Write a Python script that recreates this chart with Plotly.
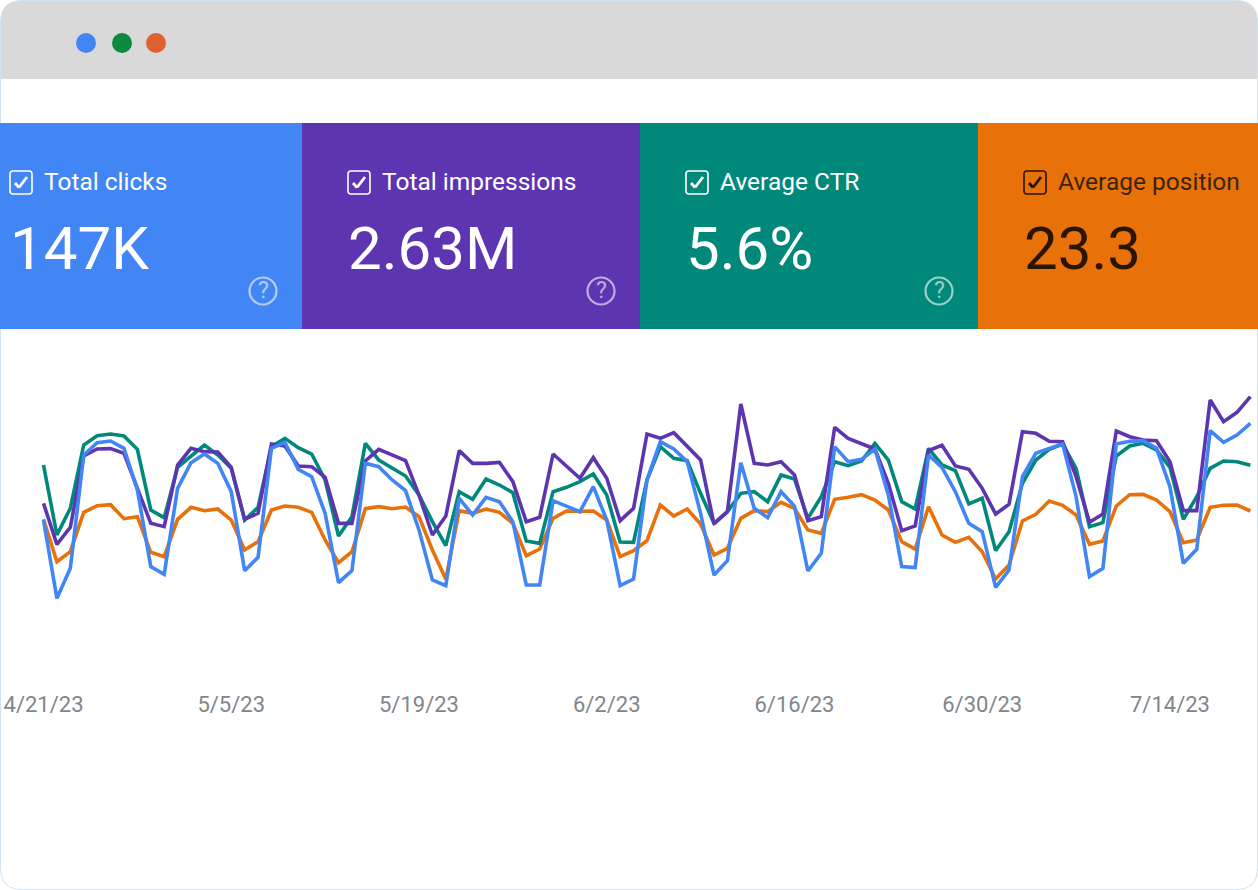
import plotly.graph_objects as go
import pandas as pd

dates = pd.date_range("2023-04-21", periods=91, freq="D")
tick_dates = ["2023-04-21", "2023-05-05", "2023-05-19", "2023-06-02", "2023-06-16", "2023-06-30", "2023-07-14"]
tick_labels = ["4/21/23", "5/5/23", "5/19/23", "6/2/23", "6/16/23", "6/30/23", "7/14/23"]

# Relative index values (no y axis in the source picture)
raw_ctr = [255,465,385,195,167,162,168,208,390,413,262,228,195,225,265,420,382,200,175,203,222,300,468,410,190,240,265,288,345,
           425,497,335,358,297,315,338,483,490,335,322,305,282,345,486,487,300,200,235,242,340,430,395,340,335,365,285,297,415,350,245,
           257,243,190,240,365,387,205,255,272,372,355,512,455,310,240,208,192,265,440,428,228,198,190,210,262,418,350,265,243,245,256]
raw_impr = [370,493,442,228,207,206,220,325,430,440,255,205,215,216,262,418,400,192,198,258,260,292,430,430,243,208,225,242,345,
            465,408,212,250,250,247,305,425,412,222,258,295,233,295,422,385,162,175,158,198,240,432,395,72,250,255,245,285,422,410,142,
            175,190,207,310,452,438,212,196,258,268,325,402,373,155,160,184,185,290,427,402,153,170,180,182,245,392,392,60,125,97,50]
raw_clicks = [420,655,565,225,188,183,205,330,560,583,325,248,222,250,335,572,532,205,187,268,290,400,608,572,250,260,300,332,450,
              600,617,355,405,352,365,425,615,615,362,378,395,320,420,617,597,300,185,207,245,400,585,542,248,385,413,335,378,573,520,200,
              245,238,207,345,560,563,225,262,335,430,455,622,570,290,220,205,192,350,590,565,192,184,182,205,320,550,508,152,187,165,130]
raw_pos = [418,545,515,397,377,374,416,410,517,530,418,382,392,387,420,510,485,390,378,382,397,480,548,515,386,380,386,381,410,
           510,598,392,400,387,397,430,527,507,415,393,394,393,420,530,512,482,375,408,387,432,525,505,415,392,395,367,385,450,460,358,
           352,344,360,390,485,507,380,465,487,472,515,597,555,423,403,363,376,405,493,483,378,344,343,360,395,488,480,382,376,375,393]

position = [700 - v for v in raw_pos]
ctr = [700 - v for v in raw_ctr]
clicks = [700 - v for v in raw_clicks]
impressions = [700 - v for v in raw_impr]

card_titles = ["Total clicks", "Total impressions", "Average CTR", "Average position"]
card_values = ["147K", "2.63M", "5.6%", "23.3"]

W, H = 1258, 890
BLUE, PURPLE, TEAL, ORANGE = "#4285f4", "#5e35b1", "#00897b", "#e8710a"

fig = go.Figure()
for name, vals, col in [("Average position", position, ORANGE), ("Average CTR", ctr, TEAL),
                        ("Total impressions", impressions, PURPLE), ("Total clicks", clicks, BLUE)]:
    fig.add_trace(go.Scatter(x=dates, y=vals, mode="lines", name=name,
                             line=dict(color=col, width=3.6), hoverinfo="x+y+name"))

def px(x): return x / W
def py(y): return 1 - y / H

shapes, ann = [], []
def rect(x0, y0, x1, y1, fill):
    shapes.append(dict(type="rect", xref="paper", yref="paper", x0=px(x0), x1=px(x1), y0=py(y0), y1=py(y1),
                       fillcolor=fill, line=dict(width=0), layer="below"))
def circle(cx, cy, r, fill=None, line=None, lw=0):
    shapes.append(dict(type="circle", xref="paper", yref="paper", x0=px(cx-r), x1=px(cx+r), y0=py(cy+r), y1=py(cy-r),
                       fillcolor=fill if fill else "rgba(0,0,0,0)", line=dict(width=lw, color=line or "rgba(0,0,0,0)"), layer="above"))
def segs(pts, color, lw):
    for (a, b), (c, d) in zip(pts[:-1], pts[1:]):
        shapes.append(dict(type="line", xref="paper", yref="paper", x0=px(a), y0=py(b), x1=px(c), y1=py(d),
                           line=dict(color=color, width=lw), layer="above"))
def text(x, y, s, size, color, anchor="left"):
    ann.append(dict(xref="paper", yref="paper", x=px(x), y=py(y), text=s, showarrow=False, xanchor=anchor, yanchor="middle",
                    font=dict(family="Roboto", size=size, color=color)))

# Browser chrome
R = 22
def rounded(x0, y0, x1, y1, r_top, r_bot):
    f = lambda x, y: f"{px(x)},{py(y)}"
    return (f"M{f(x0, y0 + r_top)} Q{f(x0, y0)} {f(x0 + r_top, y0)} L{f(x1 - r_top, y0)} Q{f(x1, y0)} {f(x1, y0 + r_top)} "
            f"L{f(x1, y1 - r_bot)} Q{f(x1, y1)} {f(x1 - r_bot, y1)} L{f(x0 + r_bot, y1)} Q{f(x0, y1)} {f(x0, y1 - r_bot)} Z")
shapes.append(dict(type="path", xref="paper", yref="paper", path=rounded(0.5, 0.5, W-0.5, 79, R, 0),
                   fillcolor="#d9d9d9", line=dict(width=0), layer="below"))
shapes.append(dict(type="path", xref="paper", yref="paper", path=rounded(0.5, 0.5, W-0.5, H-0.5, R, R),
                   fillcolor="rgba(0,0,0,0)", line=dict(width=1, color="#d3e3f0"), layer="below"))
circle(86, 43, 10, "#4285f4"); circle(122, 43, 10, "#0b8a3e"); circle(156, 43, 10, "#e0602f")

# Metric cards
cards = [(0, 302, BLUE, "#ffffff", 9), (302, 640, PURPLE, "#ffffff", 347), (640, 978, TEAL, "#ffffff", 685), (978, 1258, ORANGE, "#2a1500", 1023)]
for (x0, x1, col, fg, bx), t, v in zip(cards, card_titles, card_values):
    rect(x0, 123, x1, 329, col)
    shapes.append(dict(type="path", xref="paper", yref="paper", path=rounded(bx+1, 171, bx+23, 194, 3, 3),
                       fillcolor="rgba(0,0,0,0)", line=dict(width=1.6, color=fg), layer="above"))
    segs([(bx+6, 183), (bx+10, 187.5), (bx+18, 177)], fg, 2.8)
    text(bx+33, 181, t, 24.5, "#3d2406" if x0 == 978 else fg)
    text(bx-1, 249, v, 60, fg)
    if x0 < 978:
        circle(x1-39, 291, 13.5, None, "rgba(255,255,255,0.6)", 2.2)
        text(x1-39, 290, "?", 23, "rgba(255,255,255,0.6)", "center")

layout = dict(
    width=W, height=H, margin=dict(l=0, r=0, t=0, b=0), paper_bgcolor="#ffffff", plot_bgcolor="rgba(0,0,0,0)",
    showlegend=False, shapes=shapes, annotations=ann,
    xaxis=dict(range=[pd.Timestamp("2023-04-21") - pd.Timedelta(days=43.5/13.41),
                      pd.Timestamp("2023-04-21") + pd.Timedelta(days=(W-43.5)/13.41)],
               tickmode="array", tickvals=tick_dates, ticktext=tick_labels, showgrid=False, zeroline=False,
               showline=False, ticks="", tickfont=dict(family="Roboto", size=22, color="#80868b")),
    yaxis=dict(domain=[1-689/H, 1-340/H], range=[-227, 820], visible=False),
)
fig.update_layout(**layout)
fig.write_html("out.html", config=dict(displayModeBar=False), post_script="document.body.style.margin='0';")
